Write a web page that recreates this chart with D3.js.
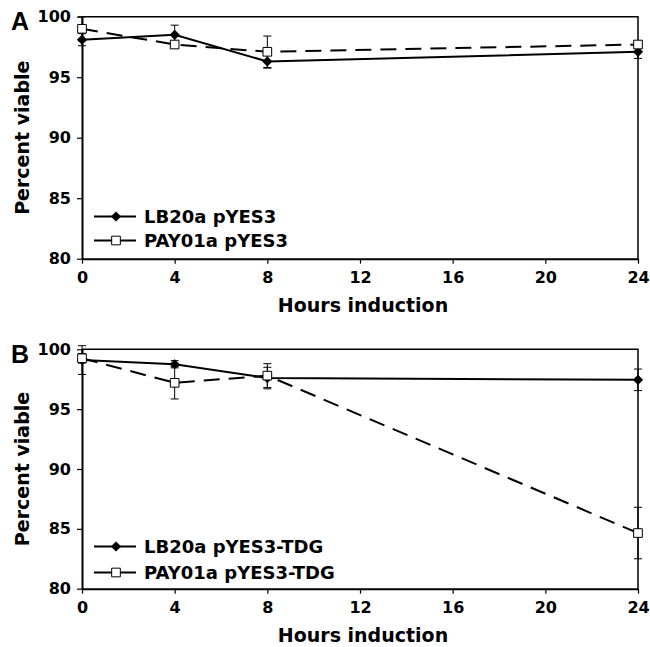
<!DOCTYPE html>
<html>
<head>
<meta charset="utf-8">
<script src="https://cdn.jsdelivr.net/npm/d3@7"></script>
<style>
  body { margin: 0; background: #fff; }
  svg { display: block; }
  text { font-family: "DejaVu Sans", Verdana, sans-serif; font-weight: bold; fill: #000; }
  .axis text { font-size: 16px; }
  .axis path, .axis line { stroke: #000; }
</style>
</head>
<body>
<svg id="chart"></svg>
<script>
// hours of induction (x values)
const hours = [0, 4, 8, 24];
const xTicks = [0, 4, 8, 12, 16, 20, 24];
const yTicks = [80, 85, 90, 95, 100];

// panel A
const lbA = [98.1, 98.5, 96.3, 97.1];
const lbAErr = [0.5, 0.8, 0.55, 0.55];
const payA = [99.0, 97.7, 97.1, 97.7];
const payAErr = [1.0, 0.3, 1.3, 0.3];

// panel B
const lbB = [99.1, 98.75, 97.6, 97.45];
const lbBErr = [1.2, 0.3, 0.9, 0.9];
const payB = [99.25, 97.2, 97.8, 84.65];
const payBErr = [0.4, 1.35, 1.0, 2.15];

const svg = d3.select('#chart').attr('width', 650).attr('height', 647);

function drawPanel(cfg) {
  const left = 82, right = 638;
  const x = d3.scaleLinear([0, 24], [left, right]);
  const y = d3.scaleLinear([80, 100], [cfg.bottom, cfg.top]);
  const g = svg.append('g');

  // plot frame (top + right)
  g.append('path')
    .attr('d', `M${left},${cfg.top}H${right}V${cfg.bottom}`)
    .attr('fill', 'none').attr('stroke', '#000').attr('stroke-width', 1.5);

  // axes
  const yAxisG = g.append('g').attr('class', 'axis')
    .attr('transform', `translate(${left},0)`)
    .call(d3.axisLeft(y).tickValues(yTicks).tickSize(5).tickPadding(6).tickSizeOuter(0));
  yAxisG.select('.domain').attr('stroke-width', 2);
  yAxisG.selectAll('.tick line').attr('stroke-width', 1.2);

  const xAxisG = g.append('g').attr('class', 'axis')
    .attr('transform', `translate(0,${cfg.bottom})`)
    .call(d3.axisBottom(x).tickValues(xTicks).tickSize(5).tickPadding(8).tickSizeOuter(0));
  xAxisG.select('.domain').attr('stroke-width', 2);
  xAxisG.selectAll('.tick line').attr('stroke-width', 1.2);

  const series = [
    {vals: cfg.lb, err: cfg.lbErr, dash: null, marker: 'diamond'},
    {vals: cfg.pay, err: cfg.payErr, dash: '16,9', marker: 'square'}
  ];

  const line = d3.line().x((d, i) => x(hours[i])).y(d => y(d));

  series.forEach(s => {
    g.append('path')
      .attr('d', line(s.vals))
      .attr('fill', 'none').attr('stroke', '#000').attr('stroke-width', 2)
      .attr('stroke-dasharray', s.dash);
  });

  // error bars
  series.forEach(s => {
    s.vals.forEach((v, i) => {
      const cx = x(hours[i]);
      const y1 = y(v + s.err[i]), y2 = y(v - s.err[i]);
      g.append('line').attr('x1', cx).attr('x2', cx).attr('y1', y1).attr('y2', y2)
        .attr('stroke', '#000').attr('stroke-width', 1);
      [y1, y2].forEach(yy => g.append('line')
        .attr('x1', cx - 4).attr('x2', cx + 4).attr('y1', yy).attr('y2', yy)
        .attr('stroke', '#000').attr('stroke-width', 1));
    });
  });

  // markers
  const sym = {
    diamond: d3.symbol(d3.symbolDiamond2, 60),
    square: d3.symbol(d3.symbolSquare, 75)
  };
  function marker(sel, type) {
    sel.attr('d', sym[type]())
      .attr('fill', type === 'diamond' ? '#000' : '#fff')
      .attr('stroke', '#000').attr('stroke-width', type === 'diamond' ? 0.5 : 1);
  }
  series.forEach(s => {
    s.vals.forEach((v, i) => {
      g.append('path').attr('transform', `translate(${x(hours[i])},${y(v)})`)
        .call(marker, s.marker);
    });
  });

  // legend
  cfg.legend.forEach((name, i) => {
    const ly = cfg.legendY[i];
    g.append('line').attr('x1', 94).attr('x2', 136).attr('y1', ly).attr('y2', ly)
      .attr('stroke', '#000').attr('stroke-width', 2);
    g.append('path').attr('transform', `translate(116,${ly})`)
      .call(marker, series[i].marker);
    g.append('text').attr('x', 144).attr('y', ly).attr('dy', '0.36em')
      .style('font-size', '18px').text(name);
  });

  // panel letter
  g.append('text').attr('x', 11).attr('y', cfg.top + 13.5)
    .style('font-family', '"Liberation Sans", Arial, sans-serif')
    .style('font-size', '25px').text(cfg.letter);

  // axis titles
  g.append('text').attr('x', (left + right) / 2 + 3).attr('y', cfg.bottom + 53)
    .attr('text-anchor', 'middle').style('font-size', '19px').text('Hours induction');
  g.append('text')
    .attr('transform', `translate(29,${(cfg.top + cfg.bottom) / 2}) rotate(-90)`)
    .attr('text-anchor', 'middle').style('font-size', '19px').text('Percent viable');
}

drawPanel({
  letter: 'A', top: 16.7, bottom: 258.7,
  lb: lbA, lbErr: lbAErr, pay: payA, payErr: payAErr,
  legend: ['LB20a pYES3', 'PAY01a pYES3'], legendY: [216.5, 240.5]
});
drawPanel({
  letter: 'B', top: 349.3, bottom: 588.7,
  lb: lbB, lbErr: lbBErr, pay: payB, payErr: payBErr,
  legend: ['LB20a pYES3-TDG', 'PAY01a pYES3-TDG'], legendY: [546.5, 572.5]
});
</script>
</body>
</html>
